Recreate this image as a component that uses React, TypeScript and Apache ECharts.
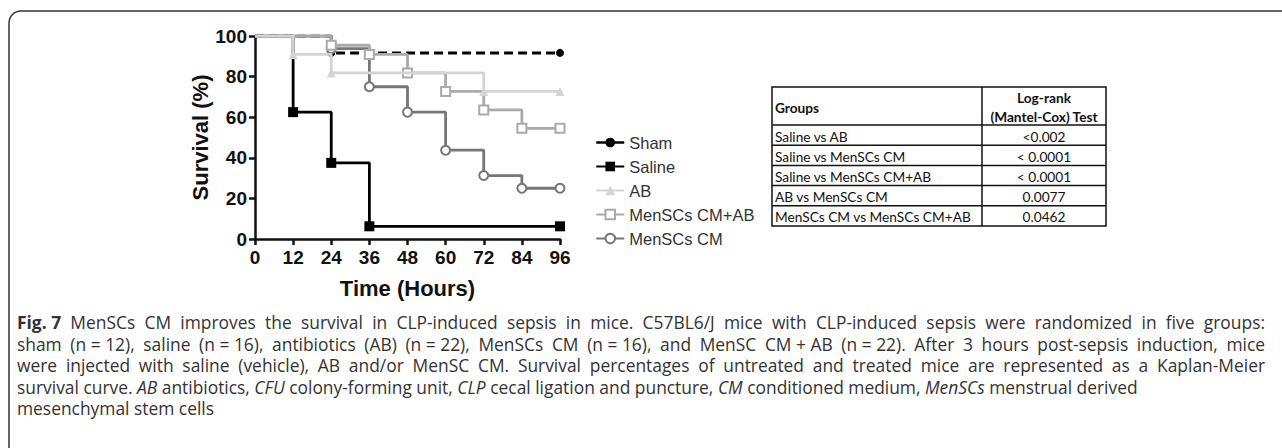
import React, { useEffect, useRef } from "react";
import * as echarts from "echarts";

const SERIES_NAMES = ["Sham", "Saline", "AB", "MenSCs CM+AB", "MenSCs CM"];
const SHAM_T = [0, 24, 96];
const SHAM_V = [100, 91.67, 91.67];
const SALINE_T = [0, 12, 24, 36, 96];
const SALINE_V = [100, 62.5, 37.5, 6.25, 6.25];
const AB_T = [0, 12, 24, 72, 96];
const AB_V = [100, 90.9, 81.8, 72.7, 72.7];
const CMAB_T = [0, 24, 36, 48, 60, 72, 84, 96];
const CMAB_V = [100, 95.45, 90.9, 81.8, 72.7, 63.6, 54.5, 54.5];
const CM_T = [0, 24, 36, 48, 60, 72, 84, 96];
const CM_V = [100, 93.75, 75, 62.5, 43.75, 31.25, 25, 25];

const TABLE_HEAD = ["Groups", "Log-rank\n(Mantel-Cox) Test"];
const TABLE_GROUPS = [
  "Saline vs AB",
  "Saline vs MenSCs CM",
  "Saline vs MenSCs CM+AB",
  "AB vs MenSCs CM",
  "MenSCs CM vs MenSCs CM+AB",
];
const TABLE_P = ["<0.002", "< 0.0001", "< 0.0001", "0.0077", "0.0462"];

const CAPTION_LINES = [
  "{b|Fig. 7} MenSCs CM improves the survival in CLP-induced sepsis in mice. C57BL6/J mice with CLP-induced sepsis were randomized in five groups:",
  "sham (n = 12), saline (n = 16), antibiotics (AB) (n = 22), MenSCs CM (n = 16), and MenSC CM + AB (n = 22). After 3 hours post-sepsis induction, mice",
  "were injected with saline (vehicle), AB and/or MenSC CM. Survival percentages of untreated and treated mice are represented as a Kaplan-Meier",
  "survival curve. {i|AB} antibiotics, {i|CFU} colony-forming unit, {i|CLP} cecal ligation and puncture, {i|CM} conditioned medium, {i|MenSCs} menstrual derived",
  "mesenchymal stem cells",
];
const CAPTION_JUSTIFY = [true, true, true, false, false];

function pts(t: number[], v: number[]) {
  return t.map((x, i) =>
    i === 0 ? { value: [x, v[i]], symbol: "none" } : { value: [x, v[i]] }
  );
}

export default function App() {
  const ref = useRef<HTMLDivElement>(null);
  useEffect(() => {
    document.body.style.margin = "0";
    if (!ref.current) return;
    const chart = echarts.init(ref.current, undefined, { renderer: "svg" });
    const AX = "Liberation Sans";
    const TF = "Lato";
    const CF = "Open Sans";
    const CFS = 17.4;
    const capLeft = 17, capRight = 1265;
    const ctx = document.createElement("canvas").getContext("2d") as CanvasRenderingContext2D;
    const measure = (txt: string, st: string) => {
      ctx.font = `${st === "b" ? "bold " : st === "i" ? "italic " : ""}${CFS}px "${CF}"`;
      return ctx.measureText(txt).width;
    };
    const measureToken = (tok: string) => {
      let w = 0;
      const re = /\{(\w)\|([^}]*)\}|([^{]+)/g;
      let m: RegExpExecArray | null;
      while ((m = re.exec(tok))) {
        if (m[3] !== undefined) w += measure(m[3], "n");
        else w += measure(m[2], m[1]);
      }
      return w;
    };
    const justifyLine = (line: string) => {
      const prot = line.replace(/\{(\w)\|([^}]*)\}/g, (_m, s, t) => `{${s}|${t.replace(/ /g, "\u0001")}}`);
      const toks = prot.split(/(?<![=+]) (?![=+])/).map((t) => t.replace(/\u0001/g, " "));
      const wordsW = toks.reduce((a, t) => a + measureToken(t), 0);
      const gap = (capRight - capLeft - wordsW) / Math.max(1, toks.length - 1);
      return { text: toks.join("{g| }"), gap };
    };

    const tL = 772, tM = 982, tR = 1106, tTop = 87, tHeadB = 125, rowH = 20.2;
    const graphics: any[] = [
      {
        type: "rect",
        shape: { x: 9, y: 11, width: 1300, height: 470, r: 12 },
        style: { fill: "none", stroke: "#333", lineWidth: 1.5 },
        silent: true,
      },
    ];
    const tBottom = tHeadB + rowH * TABLE_GROUPS.length;
    graphics.push({
      type: "rect",
      shape: { x: tL, y: tTop, width: tR - tL, height: tBottom - tTop },
      style: { fill: "none", stroke: "#111", lineWidth: 1.5 },
    });
    graphics.push({
      type: "line",
      shape: { x1: tM, y1: tTop, x2: tM, y2: tBottom },
      style: { stroke: "#111", lineWidth: 1.5 },
    });
    for (let i = 0; i < TABLE_GROUPS.length; i++) {
      const y = tHeadB + rowH * i;
      graphics.push({
        type: "line",
        shape: { x1: tL, y1: y, x2: tR, y2: y },
        style: { stroke: "#111", lineWidth: 1.5 },
      });
      graphics.push({
        type: "text",
        x: tL + 3,
        y: y + rowH / 2 + 1,
        style: { text: TABLE_GROUPS[i], fontFamily: TF, fontSize: 13.7, fill: "#111", verticalAlign: "middle", align: "left" },
      });
      graphics.push({
        type: "text",
        x: (tM + tR) / 2,
        y: y + rowH / 2 + 1,
        style: { text: TABLE_P[i], fontFamily: TF, fontSize: 13.7, fill: "#111", verticalAlign: "middle", align: "center" },
      });
    }
    graphics.push({
      type: "text",
      x: tL + 3,
      y: 107,
      style: { text: TABLE_HEAD[0], fontFamily: TF, fontSize: 13.7, fontWeight: "bold", fill: "#111", verticalAlign: "middle", align: "left" },
    });
    graphics.push({
      type: "text",
      x: (tM + tR) / 2,
      y: 106.5,
      style: {
        text: TABLE_HEAD[1], fontFamily: TF, fontSize: 13.7, fontWeight: "bold", fill: "#111",
        verticalAlign: "middle", align: "center", lineHeight: 19,
      },
    });
    CAPTION_LINES.forEach((line, i) => {
      let text = line;
      let gap = 5;
      if (CAPTION_JUSTIFY[i]) {
        const j = justifyLine(line);
        text = j.text;
        gap = j.gap;
      }
      graphics.push({
        type: "text",
        x: capLeft,
        y: 322 + i * 21.5,
        style: {
          text,
          fontFamily: CF,
          fontSize: CFS,
          fill: "#333",
          verticalAlign: "middle",
          align: "left",
          rich: {
            b: { fontFamily: CF, fontSize: CFS, fontWeight: "bold", fill: "#333" },
            i: { fontFamily: CF, fontSize: CFS, fontStyle: "italic", fill: "#333" },
            g: { fontFamily: CF, fontSize: CFS, fill: "#333", width: gap },
          },
        },
      });
    });

    const option: any = {
      animation: false,
      backgroundColor: "#fff",
      grid: { left: 255, top: 36, width: 305, height: 203 },
      legend: {
        orient: "vertical",
        left: 595,
        top: 134,
        padding: 0,
        itemWidth: 28,
        itemHeight: 12,
        itemGap: 7,
        data: [
          { name: "Sham", lineStyle: { type: "solid", width: 2.5 } },
          "Saline",
          "AB",
          "MenSCs CM+AB",
          "MenSCs CM",
        ],
        textStyle: { fontFamily: AX, fontSize: 16.5, color: "#333" },
      },
      xAxis: {
        type: "value",
        min: 0,
        max: 96,
        interval: 12,
        name: "Time (Hours)",
        nameLocation: "middle",
        nameGap: 38,
        nameTextStyle: { fontFamily: AX, fontSize: 22, fontWeight: "bold", color: "#111" },
        axisLine: { lineStyle: { color: "#111", width: 2.5 } },
        axisTick: { show: true, length: 6, lineStyle: { color: "#111", width: 2.5 } },
        axisLabel: { fontFamily: AX, fontSize: 19, fontWeight: "bold", color: "#111", margin: 9 },
        splitLine: { show: false },
      },
      yAxis: {
        type: "value",
        min: 0,
        max: 100,
        interval: 20,
        name: "Survival (%)",
        nameLocation: "middle",
        nameGap: 38,
        nameTextStyle: { fontFamily: AX, fontSize: 22, fontWeight: "bold", color: "#111" },
        axisLine: { show: true, lineStyle: { color: "#111", width: 2.5 } },
        axisTick: { show: true, length: 6, lineStyle: { color: "#111", width: 2.5 } },
        axisLabel: { fontFamily: AX, fontSize: 19, fontWeight: "bold", color: "#111", margin: 8 },
        splitLine: { show: false },
      },
      series: [
        {
          name: "Sham",
          type: "line",
          step: "end",
          data: pts(SHAM_T, SHAM_V),
          symbol: "circle",
          symbolSize: 8,
          itemStyle: { color: "#000" },
          lineStyle: { color: "#000", width: 3, type: [9, 5] },
          z: 1,
        },
        {
          name: "Saline",
          type: "line",
          step: "end",
          data: pts(SALINE_T, SALINE_V),
          symbol: "rect",
          symbolSize: 10,
          itemStyle: { color: "#000" },
          lineStyle: { color: "#000", width: 2.8 },
          z: 2,
        },
        {
          name: "MenSCs CM",
          type: "line",
          step: "end",
          data: pts(CM_T, CM_V),
          symbol: "emptyCircle",
          symbolSize: 9,
          itemStyle: { color: "#767676", borderWidth: 1.8 },
          lineStyle: { color: "#767676", width: 2.8 },
          z: 3,
        },
        {
          name: "MenSCs CM+AB",
          type: "line",
          step: "end",
          data: pts(CMAB_T, CMAB_V),
          symbol: "emptyRect",
          symbolSize: 9,
          itemStyle: { color: "#aaaaaa", borderWidth: 1.8 },
          lineStyle: { color: "#aaaaaa", width: 2.8 },
          z: 4,
        },
        {
          name: "AB",
          type: "line",
          step: "end",
          data: pts(AB_T, AB_V),
          symbol: "triangle",
          symbolSize: 9,
          itemStyle: { color: "#d4d4d4" },
          lineStyle: { color: "#d4d4d4", width: 2.8 },
          z: 5,
        },
      ],
      graphic: graphics,
    };
    chart.setOption(option);
    return () => chart.dispose();
  }, []);
  return <div ref={ref} style={{ width: 1282, height: 448 }} />;
}
